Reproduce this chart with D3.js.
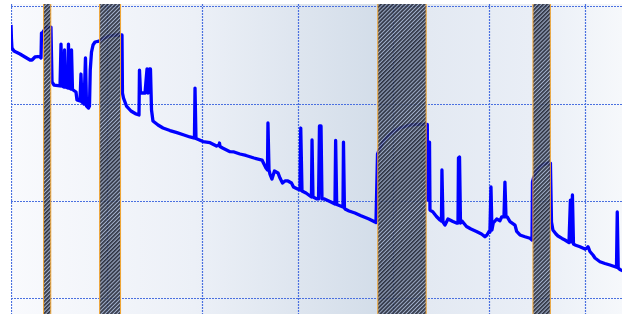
<!DOCTYPE html>
<html>
<head>
<meta charset="utf-8">
<script src="https://d3js.org/d3.v7.min.js"></script>
<style>
  html, body { margin: 0; padding: 0; background: #fff; }
  #chart { width: 622px; height: 314px; }
</style>
</head>
<body>
<div id="chart"></div>
<script>
// series: x in days, y level
var days = [
  0, 0.05, 0.1, 0.31, 0.52, 0.94, 1.46, 1.99, 2.2, 2.51, 2.82, 3.03, 3.14, 3.19, 3.35, 3.56, 3.77, 4.18,
  4.29, 4.5, 5.13, 5.23, 5.33, 5.54, 5.6, 5.7, 5.96, 6.01, 6.12, 6.28, 6.33, 6.43, 6.8, 6.9, 7.22, 7.32, 7.43,
  7.64, 7.79, 7.9, 8.11, 8.21, 8.29, 8.42, 8.58, 8.79, 9.21,
  9.41, 9.73, 10.04, 10.36, 10.88, 11.51,
  11.61, 11.66, 11.77, 12.08, 12.55, 13.08, 13.39, 13.44, 13.55, 14.02, 14.23, 14.33, 14.49, 14.59, 14.7,
  14.85, 15.38, 15.9, 16.63, 17.36, 18.1, 18.72, 19.19, 19.25, 19.35, 20.08, 20.82, 21.5, 21.76, 21.81,
  21.86, 22.18, 22.91, 23.33, 23.95, 24.58, 25.42, 26.26, 26.41, 26.67, 26.83, 26.88, 26.99, 27.09, 27.3,
  27.56, 27.93, 28.14, 28.4, 28.66, 28.97, 29.34, 29.55, 29.97, 30.23, 30.31, 30.44, 30.86, 31.43, 31.49,
  31.59, 32.01, 32.17, 32.27, 32.43, 32.53, 32.79, 33.47, 33.89, 33.96, 34.07, 34.21, 34.73, 34.78, 34.88,
  34.94, 35.36, 35.98, 36.61, 37.45, 38.18,
  38.34, 38.6, 38.91, 39.44, 39.96, 40.69, 41.21, 41.74, 42.36, 43.41,
  43.55, 43.57, 43.62, 43.78, 43.83, 44.14, 44.51, 44.87, 45.03, 45.08, 45.19, 45.4, 45.71, 46.23, 46.6,
  46.76, 46.81, 46.92, 47.02, 47.18, 47.65, 48.12, 48.69, 49.22, 49.58, 49.79, 50.0, 50.1, 50.21, 50.31,
  50.45, 50.81, 51.15, 51.33, 51.57, 51.67, 51.78, 51.91, 52.2, 52.72, 52.9, 53.24, 53.77, 54.29, 54.5,
  54.55, 54.66, 54.92, 55.33, 55.75, 56.17, 56.43,
  56.54, 56.69, 57.01, 57.22, 57.64, 57.95, 58.37, 58.52, 58.63, 58.73, 58.84, 59.0, 59.52, 60.04, 60.25,
  60.36, 60.46, 60.56, 60.88, 61.09, 61.61, 62.13, 62.66, 63.34, 63.42, 63.52, 63.7, 64.02
];
var level = [
  281, 265.5, 257.2, 254.2, 253.1, 251.1, 248, 244.9, 244.9, 248, 248.5, 248, 247, 272.6, 273.7, 276.8, 278.8, 278.8,
  222.3, 219.2, 218.2, 261.3, 218.2, 217.2, 255.2, 217.2, 216.1, 261.3, 216.1, 215.1, 255.2, 214.6, 212, 203.8, 202.8, 230.5, 201.7,
  199.7, 247, 197.6, 195.6, 197.6, 234.6, 253.1, 260.3, 263.4, 264.4,
  265.5, 267.5, 268.5, 269.6, 270.6, 270.6,
  270.6, 211, 205.8, 197.6, 192.5, 189.4, 188.4, 234.6, 211, 211, 235.7, 211, 235.7, 235.7, 193.5,
  182.2, 178.1, 175, 172.4, 170.2, 167.8, 165.8, 164.7, 216.1, 164.2, 161.1, 159.9, 156.5, 157.5, 159.6,
  156, 154.2, 150.7, 150.4, 148.3, 146.8, 144.2, 142.1, 139, 133.9, 131.9, 180.2, 131.9, 127.7, 122.6,
  130.8, 128.8, 123.6, 118.5, 120.6, 120.6, 118.5, 114.4, 112.3, 111.3, 175, 110.3, 108.2, 104.1, 162.7,
  104.1, 102.1, 102.1, 177.1, 177.1, 102.1, 102.1, 99, 96.9, 162.2, 96.4, 95.9, 93.8, 160.6, 92.8,
  91.8, 89.7, 87.7, 84.9, 81.5, 77.9,
  148.3, 154.5, 160.6, 166.8, 170.9, 175, 176.6, 178.1, 178.7, 178.7,
  178.7, 101, 160.6, 160.6, 90.7, 88.7, 84.1, 80.5, 79.4, 131.9, 78.4, 75.3, 81.5, 78.9, 77.4,
  77.4, 144.2, 145.2, 77.4, 79.4, 73.8, 71.2, 68.7, 66.1, 63.3, 65.1, 68.7, 68.1, 114.4, 70.2,
  77.4, 81.5, 79.8, 83.6, 83.6, 119.5, 83.6, 83.6, 78.9, 75.3, 68.7, 65.1, 63.3, 61.7, 59.9,
  119.5, 123.6, 129.8, 134.9, 138, 139, 139,
  78.4, 70.2, 66.1, 64, 61.5, 59.9, 57.3, 101, 57.9, 106.2, 55.8, 54.8, 53, 50.7, 51.7,
  53, 50.7, 48.1, 44.5, 41.4, 37.6, 35.8, 34.2, 31.9, 88.7, 31.1, 29.6, 28.1
];

// hatched outage periods (start / end, days)
var gapStart = [3.41, 9.27, 38.37, 54.6];
var gapEnd = [4.16, 11.46, 43.43, 56.42];

// grid ticks
var xTicks = [0, 10, 20, 30, 40, 50, 60];
var yTicks = [0, 100, 200, 300];

(function(){

  var width = 622, height = 314;
  var plot = {left: 11, top: 4, right: 622, bottom: 314};

  var svg = d3.select("#chart").append("svg")
    .attr("width", width)
    .attr("height", height);

  var x = d3.scaleLinear().domain([0, 64]).range([11, 622.8]);
  var y = d3.scaleLinear().domain([0, 300]).range([298.3, 6.4]);

  var defs = svg.append("defs");

  // background gradient, darkest right before the long gap
  var grad = defs.append("linearGradient")
    .attr("id", "bg")
    .attr("x1", "0").attr("x2", "1").attr("y1", "0").attr("y2", "0");
  [["0", "#f9fafd"], ["0.3", "#ecf0f7"], ["0.6", "#d3dde9"], ["0.68", "#e3e9f2"],
   ["0.85", "#e9eef6"], ["1", "#f6f8fb"]].forEach(function(s){
    grad.append("stop").attr("offset", s[0]).attr("stop-color", s[1]);
  });

  // diagonal hatch for the gaps
  var hatch = defs.append("pattern")
    .attr("id", "hatch")
    .attr("patternUnits", "userSpaceOnUse")
    .attr("width", 2.8).attr("height", 10)
    .attr("patternTransform", "rotate(45)");
  hatch.append("rect").attr("width", 2.8).attr("height", 10).attr("fill", "#97a6c4");
  hatch.append("rect").attr("width", 1.7).attr("height", 10).attr("fill", "#171c2c");

  defs.append("clipPath").attr("id", "clip")
    .append("rect")
    .attr("x", plot.left).attr("y", plot.top)
    .attr("width", plot.right - plot.left).attr("height", plot.bottom - plot.top);

  svg.append("rect")
    .attr("x", plot.left).attr("y", plot.top)
    .attr("width", plot.right - plot.left).attr("height", plot.bottom - plot.top)
    .attr("fill", "url(#bg)");

  var g = svg.append("g").attr("clip-path", "url(#clip)");

  // dotted grid
  g.selectAll(".vgrid")
    .data(xTicks)
    .enter().append("line")
    .attr("class", "vgrid")
    .attr("x1", function(d){ return Math.round(x(d)) + 0.5; })
    .attr("x2", function(d){ return Math.round(x(d)) + 0.5; })
    .attr("y1", plot.top).attr("y2", plot.bottom)
    .attr("stroke", "#4a70e0")
    .attr("stroke-width", 1.2)
    .attr("stroke-dasharray", "2,1");

  g.selectAll(".hgrid")
    .data(yTicks)
    .enter().append("line")
    .attr("class", "hgrid")
    .attr("x1", plot.left).attr("x2", plot.right)
    .attr("y1", function(d){ return Math.round(y(d)) + 0.5; })
    .attr("y2", function(d){ return Math.round(y(d)) + 0.5; })
    .attr("stroke", "#4a70e0")
    .attr("stroke-width", 1.2)
    .attr("stroke-dasharray", "2,1");

  // the series
  var pts = days.map(function(d, i){ return [d, level[i]]; });
  var line = d3.line()
    .x(function(d){ return x(d[0]); })
    .y(function(d){ return y(d[1]); });

  g.append("path")
    .datum(pts)
    .attr("d", line)
    .attr("fill", "none")
    .attr("stroke", "#0000ff")
    .attr("stroke-width", 3.3)
    .attr("stroke-linejoin", "round");

  // gaps drawn over the line, slightly see-through
  var gaps = gapStart.map(function(s, i){ return {s: s, e: gapEnd[i]}; });

  g.selectAll(".gap")
    .data(gaps)
    .enter().append("rect")
    .attr("class", "gap")
    .attr("x", function(d){ return x(d.s); })
    .attr("y", plot.top)
    .attr("width", function(d){ return x(d.e) - x(d.s); })
    .attr("height", plot.bottom - plot.top)
    .attr("fill", "url(#hatch)")
    .attr("opacity", 0.88);

  g.selectAll(".gap-edge")
    .data(gaps.reduce(function(a, d){ return a.concat([d.s, d.e]); }, []))
    .enter().append("line")
    .attr("class", "gap-edge")
    .attr("x1", function(d){ return x(d); })
    .attr("x2", function(d){ return x(d); })
    .attr("y1", plot.top).attr("y2", plot.bottom)
    .attr("stroke", "#f3a530")
    .attr("stroke-width", 1);

})()
</script>
</body>
</html>
